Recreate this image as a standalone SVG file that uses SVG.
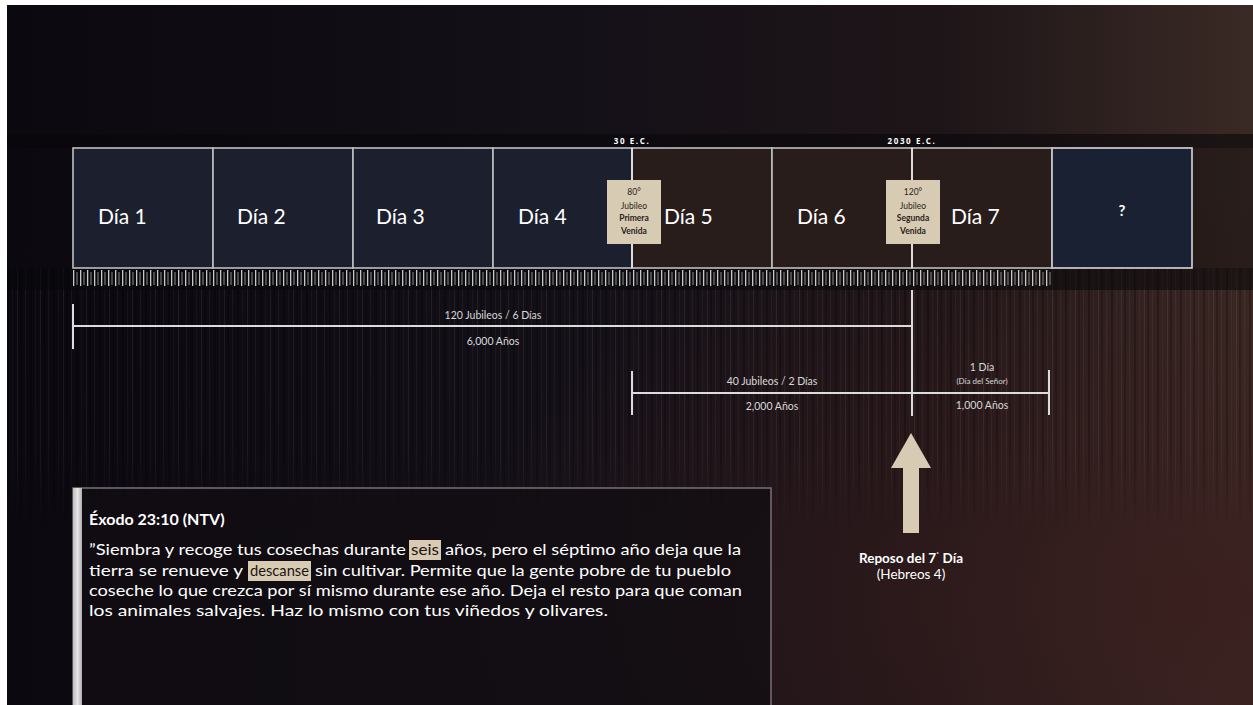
<svg xmlns="http://www.w3.org/2000/svg" width="1253" height="705" viewBox="0 0 1253 705">
<defs>
<linearGradient id="bgH" x1="0" y1="0" x2="1" y2="0">
<stop offset="0" stop-color="#0b0810"/>
<stop offset="0.45" stop-color="#141018"/>
<stop offset="0.75" stop-color="#1e1518"/>
<stop offset="1" stop-color="#3a2a25"/>
</linearGradient>
<radialGradient id="bgR" cx="0.95" cy="0.85" r="0.6">
<stop offset="0" stop-color="#3a1e1e" stop-opacity="0.8"/>
<stop offset="1" stop-color="#3a1e1e" stop-opacity="0"/>
</radialGradient>
<pattern id="streaks" width="23" height="10" patternUnits="userSpaceOnUse">
<rect x="2" y="0" width="1" height="10" fill="#ffffff" opacity="0.05"/>
<rect x="7" y="0" width="2" height="10" fill="#000000" opacity="0.25"/>
<rect x="12" y="0" width="1" height="10" fill="#ffffff" opacity="0.04"/>
<rect x="17" y="0" width="1" height="10" fill="#ffffff" opacity="0.07"/>
<rect x="20" y="0" width="2" height="10" fill="#000000" opacity="0.2"/>
</pattern>
<linearGradient id="fadeV" x1="0" y1="0" x2="0" y2="1">
<stop offset="0" stop-color="#fff" stop-opacity="1"/>
<stop offset="0.7" stop-color="#fff" stop-opacity="0.8"/>
<stop offset="1" stop-color="#fff" stop-opacity="0"/>
</linearGradient>
<mask id="streakMask"><rect x="7" y="268" width="1246" height="260" fill="url(#fadeV)"/></mask>
<pattern id="ticks" width="7" height="18" patternUnits="userSpaceOnUse" x="73" y="268">
<rect x="0" y="2" width="1.3" height="16" fill="#c9c9c9"/>
<rect x="3.5" y="4" width="1" height="13" fill="#8a8a8a"/>
</pattern>
<linearGradient id="bar" x1="0" y1="0" x2="1" y2="0">
<stop offset="0" stop-color="#bdbdbd"/>
<stop offset="0.5" stop-color="#e6e6e6"/>
<stop offset="1" stop-color="#b0b0b0"/>
</linearGradient>
</defs>
<style>
.cellA{fill:#1b1f2e;stroke:#bfbfbf;stroke-width:1.6}
.cellB{fill:#281d1a;stroke:#bfbfbf;stroke-width:1.6}
.cellQ{fill:#1a2133;stroke:#c4c4c4;stroke-width:1.8}
.day{font-family:Lato,"Open Sans",sans-serif;font-size:21px;fill:#ffffff}
.era{font-family:"Open Sans",Lato,sans-serif;font-size:8px;font-weight:bold;fill:#ffffff;letter-spacing:1.6px}
.call{fill:#d8cbb4}
.ct{font-family:Lato,"Open Sans",sans-serif;font-size:8.5px;fill:#2a2420;text-anchor:middle}
.ctb{font-weight:bold}
.br{stroke:#dcdcdc;stroke-width:2;fill:none}
.bt{font-family:Lato,"Open Sans",sans-serif;font-size:10.5px;fill:#d8d8d8;text-anchor:middle}
.bts{font-size:8px}
.q{font-family:Lato,"Open Sans",sans-serif;font-size:16px;fill:#ffffff}
.qd{fill:#1c1512}
.qt{font-family:Lato,"Open Sans",sans-serif;font-size:16px;fill:#ffffff;font-weight:bold}
.hl{fill:#d8cbb4}
.rest{font-family:Lato,"Open Sans",sans-serif;font-size:13.5px;fill:#ffffff;text-anchor:middle}
</style>
<rect x="0" y="0" width="1253" height="705" fill="#ffffff"/>
<rect x="7" y="5" width="1246" height="700" fill="url(#bgH)"/>
<rect x="7" y="5" width="1246" height="700" fill="url(#bgR)"/>
<rect x="7" y="268" width="1246" height="260" fill="url(#streaks)" mask="url(#streakMask)"/>
<rect x="7" y="134" width="1246" height="14" fill="#08070a" opacity="0.6"/>
<rect x="7" y="268" width="1246" height="22" fill="#08070a" opacity="0.55"/>
<rect x="1192" y="148" width="61" height="120" fill="#0c0a0c" opacity="0.35"/>

<text class="era" x="632" y="144" text-anchor="middle">30 E.C.</text>
<text class="era" x="912" y="144" text-anchor="middle">2030 E.C.</text>

<g id="day1"><rect class="cellA" x="73" y="148" width="140" height="120"/><text class="day" x="98" y="224">Día 1</text></g>
<g id="day2"><rect class="cellA" x="213" y="148" width="140" height="120"/><text class="day" x="237" y="224">Día 2</text></g>
<g id="day3"><rect class="cellA" x="353" y="148" width="140" height="120"/><text class="day" x="376" y="224">Día 3</text></g>
<g id="day4"><rect class="cellA" x="493" y="148" width="139" height="120"/><text class="day" x="518" y="224">Día 4</text></g>
<g id="day5"><rect class="cellB" x="632" y="148" width="140" height="120"/><text class="day" x="664" y="224">Día 5</text></g>
<g id="day6"><rect class="cellB" x="772" y="148" width="140" height="120"/><text class="day" x="797" y="224">Día 6</text></g>
<g id="day7"><rect class="cellB" x="912" y="148" width="140" height="120"/><text class="day" x="951" y="224">Día 7</text></g>
<g id="unknown"><rect class="cellQ" x="1052" y="148" width="140" height="120"/><text x="1122" y="216" text-anchor="middle" font-family="Lato,'Open Sans',sans-serif" font-size="15" font-weight="bold" fill="#ffffff">?</text></g>

<g id="ruler"><rect x="73" y="268" width="980" height="18" fill="url(#ticks)"/></g>

<g id="connectors">
<line class="br" x1="632" y1="148" x2="632" y2="268" stroke-width="2.2"/>
<line class="br" x1="912" y1="148" x2="912" y2="268" stroke-width="2.2"/>
<line class="br" x1="73" y1="326" x2="912" y2="326"/>
<line class="br" x1="73" y1="304" x2="73" y2="349"/>
<line class="br" x1="912" y1="290" x2="912" y2="416"/>
<line class="br" x1="632" y1="393" x2="1049" y2="393"/>
<line class="br" x1="632" y1="371" x2="632" y2="415"/>
<line class="br" x1="1049" y1="370" x2="1049" y2="415"/>
</g>

<g id="callout80"><rect class="call" x="607" y="180" width="54" height="64"/>
<text class="ct" x="634" y="195">80°</text><text class="ct" x="634" y="209">Jubileo</text><text class="ct ctb" x="634" y="221">Primera</text><text class="ct ctb" x="634" y="234">Venida</text></g>
<g id="callout120"><rect class="call" x="886" y="180" width="54" height="64"/>
<text class="ct" x="913" y="195">120°</text><text class="ct" x="913" y="209">Jubileo</text><text class="ct ctb" x="913" y="221">Segunda</text><text class="ct ctb" x="913" y="234">Venida</text></g>

<g id="span6000">
<text class="bt" x="493" y="319">120 Jubileos / 6 Días</text>
<text class="bt" x="493" y="345">6,000 Años</text>
</g>
<g id="span2000">
<text class="bt" x="772" y="385">40 Jubileos / 2 Días</text>
<text class="bt" x="772" y="410">2,000 Años</text>
</g>
<g id="span1000">
<text class="bt" x="982" y="371">1 Día</text>
<text class="bt bts" x="982" y="384">(Día del Señor)</text>
<text class="bt" x="982" y="409">1,000 Años</text>
</g>

<g id="rest">
<polygon class="call" points="911,433 931,468 919,468 919,533 903,533 903,468 891,468"/>
<text class="rest" x="911" y="563"><tspan font-weight="bold">Reposo del 7</tspan><tspan font-weight="bold" font-size="8" dy="-5">˚</tspan><tspan font-weight="bold" dy="5"> Día</tspan></text>
<text class="rest" x="911" y="579">(Hebreos 4)</text>
</g>

<g id="quote">
<rect x="73" y="488" width="698" height="230" fill="#120d12" fill-opacity="0.75" stroke="#77707a" stroke-width="1.5"/>
<rect x="73" y="488" width="9" height="217" fill="url(#bar)"/>
<text class="qt" x="89" y="525">Éxodo 23:10 (NTV)</text>
<rect class="hl" x="409" y="540" width="32" height="20"/>
<rect class="hl" x="248" y="561" width="63" height="20"/>
<text class="q" x="89" y="555" textLength="317" lengthAdjust="spacingAndGlyphs">”Siembra y recoge tus cosechas durante</text>
<text class="q qd" x="411" y="555" textLength="28" lengthAdjust="spacingAndGlyphs">seis</text>
<text class="q" x="445" y="555" textLength="296" lengthAdjust="spacingAndGlyphs">años, pero el séptimo año deja que la</text>
<text class="q" x="89" y="576" textLength="154" lengthAdjust="spacingAndGlyphs">tierra se renueve y</text>
<text class="q qd" x="250" y="576" textLength="59" lengthAdjust="spacingAndGlyphs">descanse</text>
<text class="q" x="315" y="576" textLength="416" lengthAdjust="spacingAndGlyphs">sin cultivar. Permite que la gente pobre de tu pueblo</text>
<text class="q" x="89" y="596" textLength="653" lengthAdjust="spacingAndGlyphs">coseche lo que crezca por sí mismo durante ese año. Deja el resto para que coman</text>
<text class="q" x="89" y="616" textLength="519" lengthAdjust="spacingAndGlyphs">los animales salvajes. Haz lo mismo con tus viñedos y olivares.</text>
</g>
</svg>
